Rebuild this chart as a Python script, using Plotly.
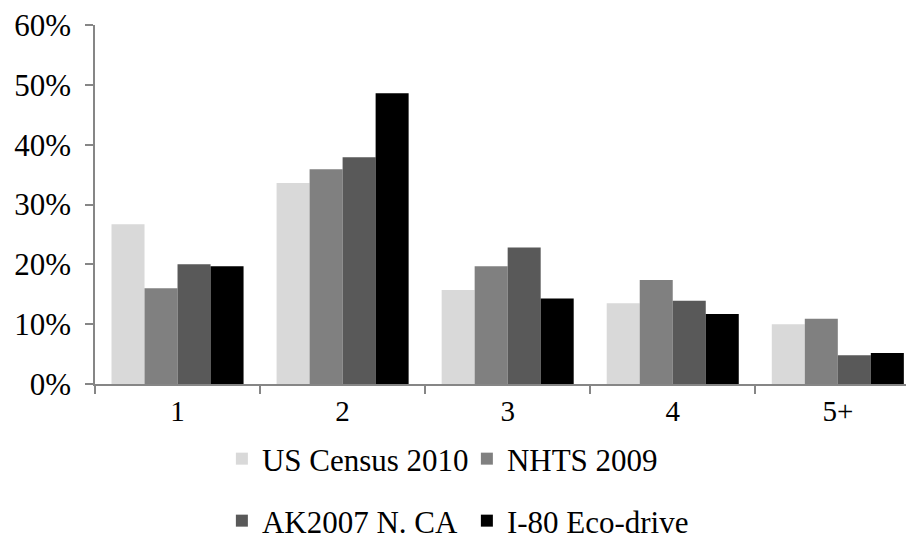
import plotly.graph_objects as go

categories = ["1", "2", "3", "4", "5+"]
us_census_2010 = [0.267, 0.336, 0.157, 0.135, 0.100]
nhts_2009 = [0.160, 0.359, 0.197, 0.174, 0.109]
ak2007_nca = [0.200, 0.379, 0.228, 0.139, 0.048]
i80_eco_drive = [0.197, 0.486, 0.143, 0.117, 0.052]

series = [
    ("US Census 2010", us_census_2010, "#d9d9d9", "legend"),
    ("NHTS 2009", nhts_2009, "#808080", "legend"),
    ("AK2007 N. CA", ak2007_nca, "#595959", "legend2"),
    ("I-80 Eco-drive", i80_eco_drive, "#000000", "legend2"),
]

font = "Liberation Serif, Times New Roman, serif"

fig = go.Figure()
for name, vals, color, lg in series:
    fig.add_trace(go.Bar(
        x=categories, y=vals, name=name, legend=lg,
        marker=dict(color=color, line=dict(width=0)),
    ))

legend_style = dict(
    orientation="h", xanchor="left", yanchor="middle",
    xref="container", yref="container",
    font=dict(family=font, size=31, color="black"),
    entrywidth=200, itemclick=False, bgcolor="rgba(0,0,0,0)",
)

fig.update_layout(
    width=914, height=548,
    margin=dict(l=87, r=0, t=17, b=172),
    paper_bgcolor="white", plot_bgcolor="white",
    barmode="group", bargap=0.2, bargroupgap=0,
    font=dict(family=font, size=30, color="black"),
    legend=dict(x=0.234, y=1 - 451 / 548, **legend_style),
    legend2=dict(x=0.234, y=1 - 513 / 548, **legend_style),
    xaxis=dict(
        range=[-0.5, 4.51], showline=True, linecolor="#868686", linewidth=1.5,
        ticks="outside", tickson="boundaries", ticklen=8, tickcolor="#868686",
        tickwidth=1.5, showgrid=False, tickfont=dict(size=29), automargin=False,
    ),
    yaxis=dict(
        range=[0, 0.6], tickvals=[0, 0.1, 0.2, 0.3, 0.4, 0.5, 0.6],
        tickformat=".0%", showline=True, linecolor="#868686", linewidth=1.5,
        ticks="outside", ticklen=8, tickcolor="#868686", tickwidth=1.5,
        showgrid=False, zeroline=False, tickfont=dict(size=31),
        ticklabelstandoff=8, automargin=False, ticklabeloverflow="allow",
    ),
)

fig.write_html("out.html")
